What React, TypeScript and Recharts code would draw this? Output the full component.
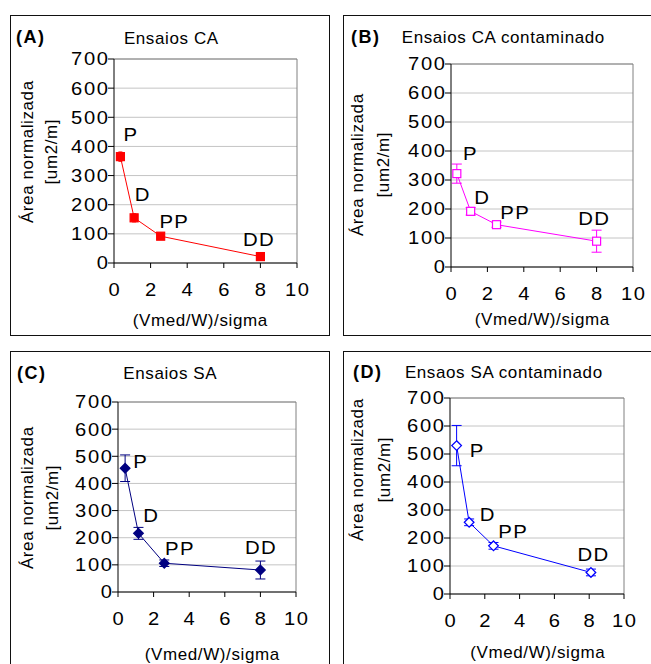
import React from "react";
import { LineChart, Line, XAxis, YAxis, CartesianGrid, ErrorBar, ReferenceLine } from "recharts";

const categories = ["P", "D", "PP", "DD"];

// (A) Ensaios CA
const caX = [0.35, 1.1, 2.55, 8.0];
const caY = [365, 155, 92, 22];
const caErr = [16, 14, 7, 4];

// (B) Ensaios CA contaminado
const cacX = [0.32, 1.08, 2.5, 8.0];
const cacY = [322, 192, 146, 89];
const cacErr = [33, 13, 9, 38];

// (C) Ensaios SA
const saX = [0.4, 1.15, 2.6, 8.0];
const saY = [456, 216, 106, 81];
const saErr = [49, 22, 12, 33];

// (D) Ensaos SA contaminado
const sacX = [0.38, 1.1, 2.5, 8.1];
const sacY = [530, 256, 172, 77];
const sacErr = [72, 12, 12, 12];

const xTicks = [0, 2, 4, 6, 8, 10];
const yTicks = [0, 100, 200, 300, 400, 500, 600, 700];

const FONT = "'Liberation Sans', Arial, sans-serif";
const W = 318;
const H = 319;
const Y_AXIS_W = 50;
const X_AXIS_H = 30;

type Panel = {
  tag: string;
  title: string;
  color: string;
  marker: "square" | "diamond";
  filled: boolean;
  capWidth: number;
  xs: number[];
  ys: number[];
  errs: number[];
  box: [number, number];
  plot: [number, number, number, number];
  labelOffsets: [number, number][];
  tagPos: [number, number];
  titlePos: [number, number];
  yLab: [number, number, number];
  xLab: [number, number];
};

const panels: Panel[] = [
  {
    tag: "(A)", title: "Ensaios CA", color: "#ff0000", marker: "square", filled: true, capWidth: 2,
    xs: caX, ys: caY, errs: caErr,
    box: [10, 15], plot: [114, 59, 297, 263],
    labelOffsets: [[10, -22], [8, -23], [13, -15], [-2, -17]],
    tagPos: [16, 43], titlePos: [171, 44], yLab: [33, 57, 152], xLab: [200, 326],
  },
  {
    tag: "(B)", title: "Ensaios CA contaminado", color: "#ff00ff", marker: "square", filled: false, capWidth: 5,
    xs: cacX, ys: cacY, errs: cacErr,
    box: [343, 15], plot: [451, 64, 633, 267],
    labelOffsets: [[13, -20], [11, -14], [18, -12], [-3, -23]],
    tagPos: [351, 42.5], titlePos: [503, 43.3], yLab: [363, 389, 165], xLab: [542, 325],
  },
  {
    tag: "(C)", title: "Ensaios SA", color: "#000080", marker: "diamond", filled: true, capWidth: 5,
    xs: saX, ys: saY, errs: saErr,
    box: [10, 351], plot: [118, 402, 296, 592],
    labelOffsets: [[15, -7], [12, -18], [15, -15], [0, -23]],
    tagPos: [17, 379], titlePos: [170, 379.3], yLab: [33, 58, 498], xLab: [212, 660],
  },
  {
    tag: "(D)", title: "Ensaos SA contaminado", color: "#0000ff", marker: "diamond", filled: false, capWidth: 5,
    xs: sacX, ys: sacY, errs: sacErr,
    box: [343, 351], plot: [450, 398, 624, 594],
    labelOffsets: [[20, 5], [18, -8], [19, -14], [2, -18]],
    tagPos: [353, 378.3], titlePos: [503.5, 378.3], yLab: [363, 390, 470], xLab: [537.5, 658.3],
  },
];

// Excel-style wide numerals
const WideText = ({ x, y, anchor, size, sx, ls, children }: any) => {
  const shift = anchor === "end" ? ls : anchor === "middle" ? ls / 2 : 0;
  return (
    <text
      transform={`translate(${x}, ${y}) scale(${sx}, 1)`}
      x={shift}
      y={0}
      textAnchor={anchor}
      fontSize={size}
      letterSpacing={ls}
      fill="#000"
      fontFamily={FONT}
    >
      {children}
    </text>
  );
};

const XTick = (props: any) => {
  const { x, y, payload } = props;
  return (
    <WideText x={x} y={y + 26} anchor="middle" size={18} sx={1.12} ls={1.5}>
      {payload.value}
    </WideText>
  );
};

const YTick = (props: any) => {
  const { x, y, payload } = props;
  return (
    <WideText x={x} y={y + 6.4} anchor="end" size={18} sx={1.12} ls={1.5}>
      {payload.value}
    </WideText>
  );
};

const makeDot = (p: Panel) => (props: any) => {
  const { cx, cy, index } = props;
  if (cx == null || cy == null) return <g key={`dot-${index}`} />;
  const fill = p.filled ? p.color : "#ffffff";
  const s = 4;
  const d = 4.8;
  const [dx, dy] = p.labelOffsets[index];
  return (
    <g key={`dot-${index}`}>
      {p.marker === "square" ? (
        <rect x={cx - s} y={cy - s} width={2 * s} height={2 * s} fill={fill} stroke={p.color} strokeWidth={1.2} />
      ) : (
        <polygon
          points={`${cx},${cy - d} ${cx + d},${cy} ${cx},${cy + d} ${cx - d},${cy}`}
          fill={fill}
          stroke={p.color}
          strokeWidth={1.3}
        />
      )}
      <WideText x={cx + dx} y={cy + dy + 6.6} anchor="middle" size={18.5} sx={1.1} ls={1.2}>
        {categories[index]}
      </WideText>
    </g>
  );
};

const ChartPanel = ({ p }: { p: Panel }) => {
  const ox = p.box[0] + 1;
  const oy = p.box[1] + 1;
  const [pl, pt, pr, pb] = p.plot;
  const margin = {
    left: pl - ox - Y_AXIS_W,
    top: pt - oy,
    right: W - (pr - ox),
    bottom: H - (pb - oy) - X_AXIS_H,
  };
  const data = categories.map((c, i) => ({ name: c, x: p.xs[i], y: p.ys[i], err: p.errs[i] }));

  return (
    <div
      style={{
        position: "absolute",
        left: p.box[0],
        top: p.box[1],
        width: W + 2,
        height: H + 2,
        boxSizing: "border-box",
        border: "1px solid #111",
        background: "#fff",
      }}
    >
      <div style={{ position: "absolute", left: 0, top: 0 }}>
        <LineChart width={W} height={H} data={data} margin={margin}>
          <CartesianGrid vertical={false} stroke="#c4c4c4" strokeWidth={1} />
          <XAxis
            type="number"
            dataKey="x"
            domain={[0, 10]}
            ticks={xTicks}
            interval={0}
            height={X_AXIS_H}
            tickSize={5}
            tickMargin={2}
            axisLine={{ stroke: "#000" }}
            tickLine={{ stroke: "#000" }}
            tick={<XTick />}
          />
          <YAxis
            type="number"
            domain={[0, 700]}
            ticks={yTicks}
            interval={0}
            width={Y_AXIS_W}
            tickSize={6}
            tickMargin={0}
            axisLine={{ stroke: "#000" }}
            tickLine={{ stroke: "#000" }}
            tick={<YTick />}
          />
          <ReferenceLine y={700} stroke="#808080" strokeWidth={1} />
          <ReferenceLine x={10} stroke="#808080" strokeWidth={1} />
          <Line
            type="linear"
            dataKey="y"
            stroke={p.color}
            strokeWidth={1}
            dot={makeDot(p)}
            activeDot={false}
            isAnimationActive={false}
          >
            <ErrorBar dataKey="err" direction="y" width={p.capWidth} stroke={p.color} strokeWidth={1} isAnimationActive={false} />
          </Line>
        </LineChart>
      </div>
      <svg
        width={W}
        height={H}
        style={{ position: "absolute", left: 0, top: 0, pointerEvents: "none" }}
        fontFamily={FONT}
      >
        <text x={p.tagPos[0] - ox} y={p.tagPos[1] - oy} fontSize={18} fontWeight="bold" letterSpacing={1.5} fill="#000">
          {p.tag}
        </text>
        <text x={p.titlePos[0] - ox + 0.3} y={p.titlePos[1] - oy} fontSize={17} letterSpacing={0.6} textAnchor="middle" fill="#000">
          {p.title}
        </text>
        <g transform={`translate(${p.yLab[0] - ox}, ${p.yLab[2] - oy}) rotate(-90)`}>
          <text x={0.3} y={0} fontSize={17} letterSpacing={0.6} textAnchor="middle" fill="#000">
            Área normalizada
          </text>
        </g>
        <g transform={`translate(${p.yLab[1] - ox}, ${p.yLab[2] - oy}) rotate(-90)`}>
          <text x={0.3} y={0} fontSize={17} letterSpacing={0.6} textAnchor="middle" fill="#000">
            [um2/m]
          </text>
        </g>
        <text x={p.xLab[0] - ox + 0.3} y={p.xLab[1] - oy} fontSize={17} letterSpacing={0.6} textAnchor="middle" fill="#000">
          (Vmed/W)/sigma
        </text>
      </svg>
    </div>
  );
};

export default function App() {
  return (
    <div
      style={{
        position: "absolute",
        left: 0,
        top: 0,
        width: 651,
        height: 664,
        overflow: "hidden",
        background: "#fff",
        fontFamily: FONT,
      }}
    >
      {panels.map((p) => (
        <ChartPanel key={p.tag} p={p} />
      ))}
    </div>
  );
}
